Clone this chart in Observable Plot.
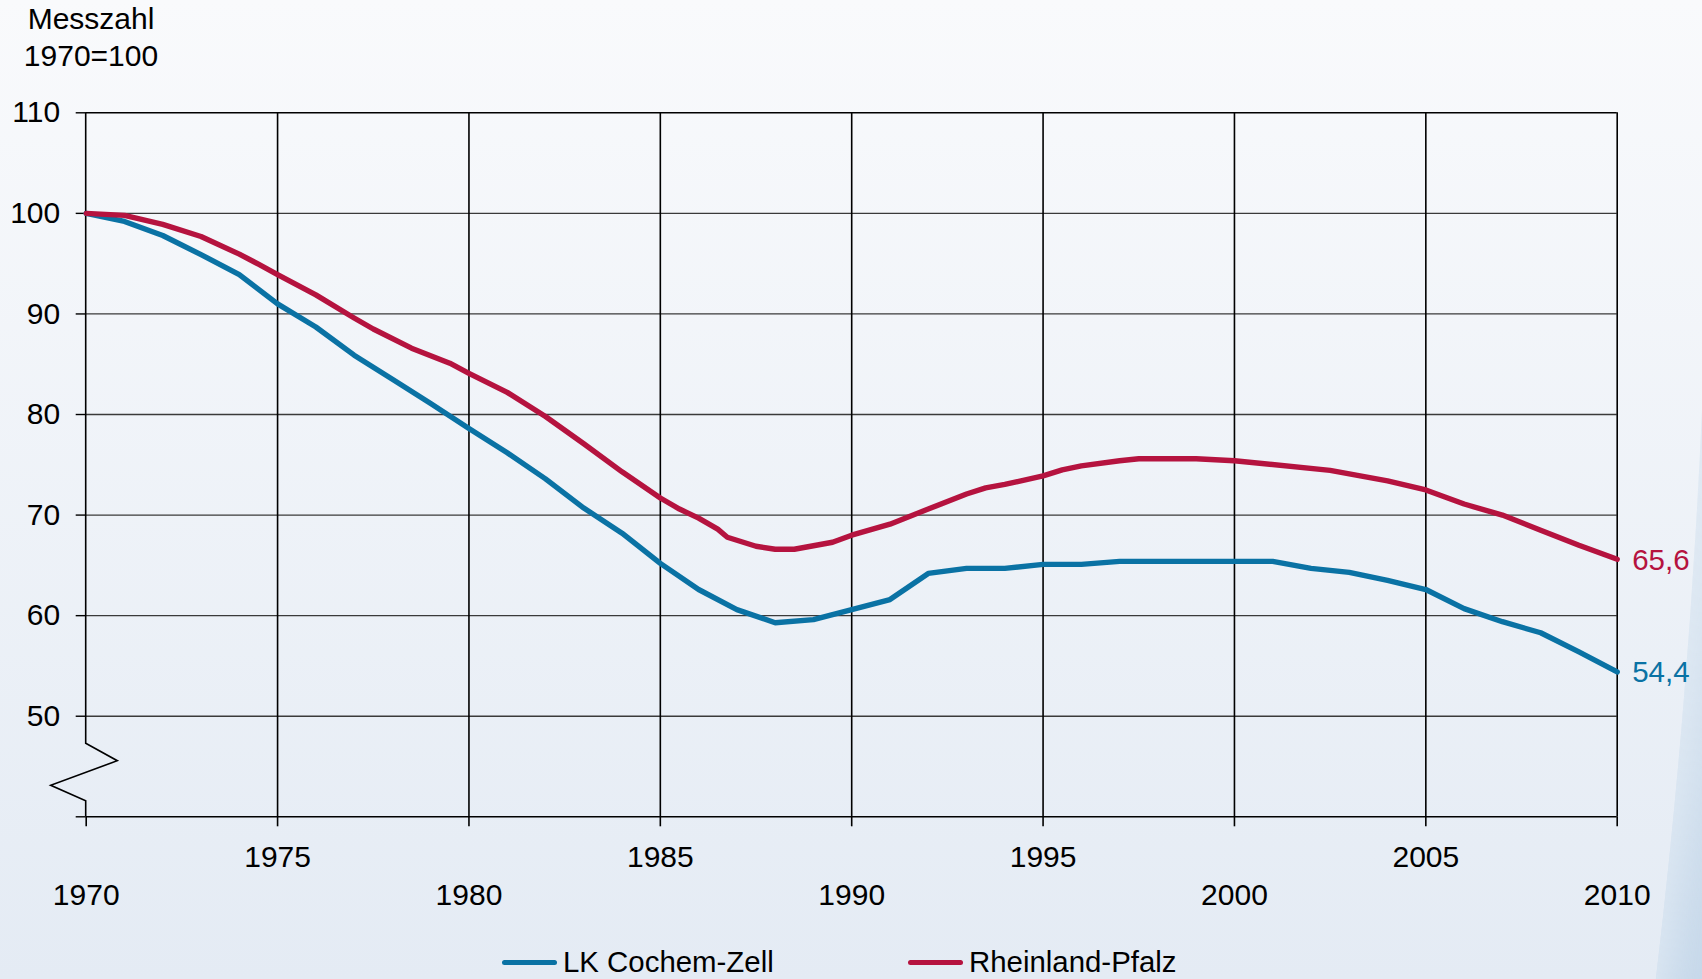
<!DOCTYPE html>
<html>
<head>
<meta charset="utf-8">
<script src="https://cdn.jsdelivr.net/npm/d3@7"></script>
<script src="https://cdn.jsdelivr.net/npm/@observablehq/plot@0.6"></script>
<style>
  html, body { margin: 0; padding: 0; width: 1702px; height: 979px; overflow: hidden; }
  body { position: relative; background: linear-gradient(to bottom, #eef2f7, #c6d8ea); font-family: Arial, "Liberation Sans", sans-serif; color: #000; }
  #panel { position: absolute; left: -1000px; top: -3270px; width: 2710px; height: 6640px; border-radius: 50%;
           background: linear-gradient(to bottom, #f9fafc 3270px, #e4ebf4 4249px);
           box-shadow: 0 0 40px 12px rgba(228,236,245,0.8); }
  #ytitle { position: absolute; left: 11px; top: 0px; width: 160px; text-align: center; font-size: 30px; line-height: 37px; }
  #chart { position: absolute; left: 0; top: 80px; }
  .leg { position: absolute; top: 944px; height: 36px; display: flex; align-items: center; font-size: 29.4px; white-space: nowrap; }
  .sw { display: inline-block; width: 55px; height: 5px; border-radius: 3px; margin-right: 6px; }
</style>
</head>
<body>
<div id="panel"></div>
<div id="ytitle">Messzahl<br>1970=100</div>
<div id="chart"></div>
<div id="legend"></div>
<script>
// ---- data ----
const seriesNames = ["LK Cochem-Zell", "Rheinland-Pfalz"];
const seriesColors = ["#0a72a4", "#b5133f"];

const cochemYears = [1970, 1971, 1972, 1973, 1974, 1975, 1976, 1977, 1978, 1979,
                     1980, 1981, 1982, 1983, 1984, 1985, 1986, 1987, 1988, 1989,
                     1990, 1991, 1992, 1993, 1994, 1995, 1996, 1997, 1998, 1999,
                     2000, 2001, 2002, 2003, 2004, 2005, 2006, 2007, 2008, 2009, 2010];
const cochemValues = [100, 99.2, 97.8, 95.9, 93.9, 91.0, 88.7, 85.9, 83.5, 81.1,
                      78.6, 76.2, 73.6, 70.7, 68.2, 65.2, 62.6, 60.6, 59.3, 59.6,
                      60.6, 61.6, 64.2, 64.7, 64.7, 65.1, 65.1, 65.4, 65.4, 65.4,
                      65.4, 65.4, 64.7, 64.3, 63.5, 62.6, 60.7, 59.4, 58.3, 56.4, 54.4];

const rlpYears = [1970, 1971, 1972, 1973, 1974, 1974.5, 1975, 1976, 1977, 1977.5,
                  1978.5, 1979.5, 1980, 1981, 1982, 1983, 1984, 1985,
                  1985.5, 1986, 1986.5, 1986.75, 1987.5, 1988, 1988.5, 1989.5, 1990, 1991,
                  1992, 1993, 1993.5, 1994, 1995, 1995.5, 1996, 1997, 1997.5, 1999,
                  2000, 2002.5, 2004, 2005, 2005.5, 2006, 2007, 2008, 2009, 2010];
const rlpValues = [100, 99.8, 98.9, 97.7, 95.95, 94.95, 93.9, 91.9, 89.6, 88.5,
                   86.6, 85.1, 84.1, 82.2, 79.8, 77.1, 74.3, 71.7,
                   70.6, 69.7, 68.6, 67.8, 66.9, 66.6, 66.6, 67.3, 68.0, 69.1,
                   70.6, 72.1, 72.7, 73.05, 73.9, 74.5, 74.9, 75.4, 75.6, 75.6,
                   75.4, 74.45, 73.4, 72.5, 71.8, 71.1, 70.0, 68.5, 67.0, 65.6];

const yTicks = [40, 50, 60, 70, 80, 90, 100, 110];
const yTickLabels = ["", "50", "60", "70", "80", "90", "100", "110"];
const xTicks = [1970, 1975, 1980, 1985, 1990, 1995, 2000, 2005, 2010];
const xLabelsUpper = [1975, 1985, 1995, 2005];
const xLabelsLower = [1970, 1980, 1990, 2000, 2010];
const endLabels = ["54,4", "65,6"];

// ---- build tables ----
const cochem = cochemYears.map((year, i) => ({year, value: cochemValues[i]}));
const rlp = rlpYears.map((year, i) => ({year, value: rlpValues[i]}));
const ends = [
  {year: cochemYears.at(-1), value: cochemValues.at(-1), label: endLabels[0], color: seriesColors[0]},
  {year: rlpYears.at(-1), value: rlpValues.at(-1), label: endLabels[1], color: seriesColors[1]}
];

const FONT = 'Arial, "Liberation Sans", sans-serif';

// left axis line with a break (zigzag) near the bottom
function leftAxisWithBreak(index, scales) {
  const x0 = scales.x(xTicks[0]);
  const yTop = scales.y(yTicks.at(-1));
  const yBot = scales.y(yTicks[0]);
  const d = `M${x0},${yTop}V${yBot - 73}l31.6,17.4l-66.6,24.6l35,15.4V${yBot}`;
  return d3.create("svg:path")
    .attr("d", d).attr("fill", "none").attr("stroke", "#000").attr("stroke-width", 1.6)
    .node();
}

const chart = Plot.plot({
  width: 1702,
  height: 835,
  marginTop: 32.3,
  marginBottom: 98.7,
  marginLeft: 85.7,
  marginRight: 85.3,
  style: {background: "transparent", fontFamily: FONT, fontSize: "30px", color: "#000", overflow: "visible"},
  x: {domain: [xTicks[0], xTicks.at(-1)], axis: null},
  y: {domain: [yTicks[0], yTicks.at(-1)], axis: null},
  marks: [
    Plot.ruleY(yTicks.slice(1, -1), {stroke: "#3a3a3a", strokeWidth: 1.3}),
    Plot.ruleY([yTicks[0], yTicks.at(-1)], {stroke: "#000", strokeWidth: 1.6}),
    Plot.ruleX(xTicks.slice(1), {stroke: "#000", strokeWidth: 1.6}),
    leftAxisWithBreak,
    Plot.axisY({ticks: yTicks, tickSize: 10, tickPadding: 16, label: null, fontSize: 30,
                tickFormat: (d) => yTickLabels[yTicks.indexOf(d)], stroke: "#000", strokeWidth: 1.4}),
    Plot.axisX({ticks: xTicks, tickSize: 10, label: null, tickFormat: () => "", stroke: "#000", strokeWidth: 1.6}),
    Plot.text(xLabelsUpper, {x: (d) => d, frameAnchor: "bottom", dy: 50, text: (d) => String(d), fontSize: 30, fill: "#000"}),
    Plot.text(xLabelsLower, {x: (d) => d, frameAnchor: "bottom", dy: 88, text: (d) => String(d), fontSize: 30, fill: "#000"}),
    Plot.line(cochem, {x: "year", y: "value", stroke: seriesColors[0], strokeWidth: 5.4, strokeLinejoin: "round", strokeLinecap: "round"}),
    Plot.line(rlp, {x: "year", y: "value", stroke: seriesColors[1], strokeWidth: 5.4, strokeLinejoin: "round", strokeLinecap: "round"}),
    Plot.text(ends, {x: "year", y: "value", text: "label", fill: "color", dx: 15, dy: 1, textAnchor: "start", fontSize: 29.5})
  ]
});
document.getElementById("chart").appendChild(chart);

// legend
const legendLefts = [502, 908];
const legend = document.getElementById("legend");
seriesNames.forEach((name, i) => {
  const item = document.createElement("div");
  item.className = "leg";
  item.style.left = legendLefts[i] + "px";
  item.innerHTML = `<span class="sw" style="background:${seriesColors[i]}"></span><span>${name}</span>`;
  legend.appendChild(item);
});
</script>
</body>
</html>
